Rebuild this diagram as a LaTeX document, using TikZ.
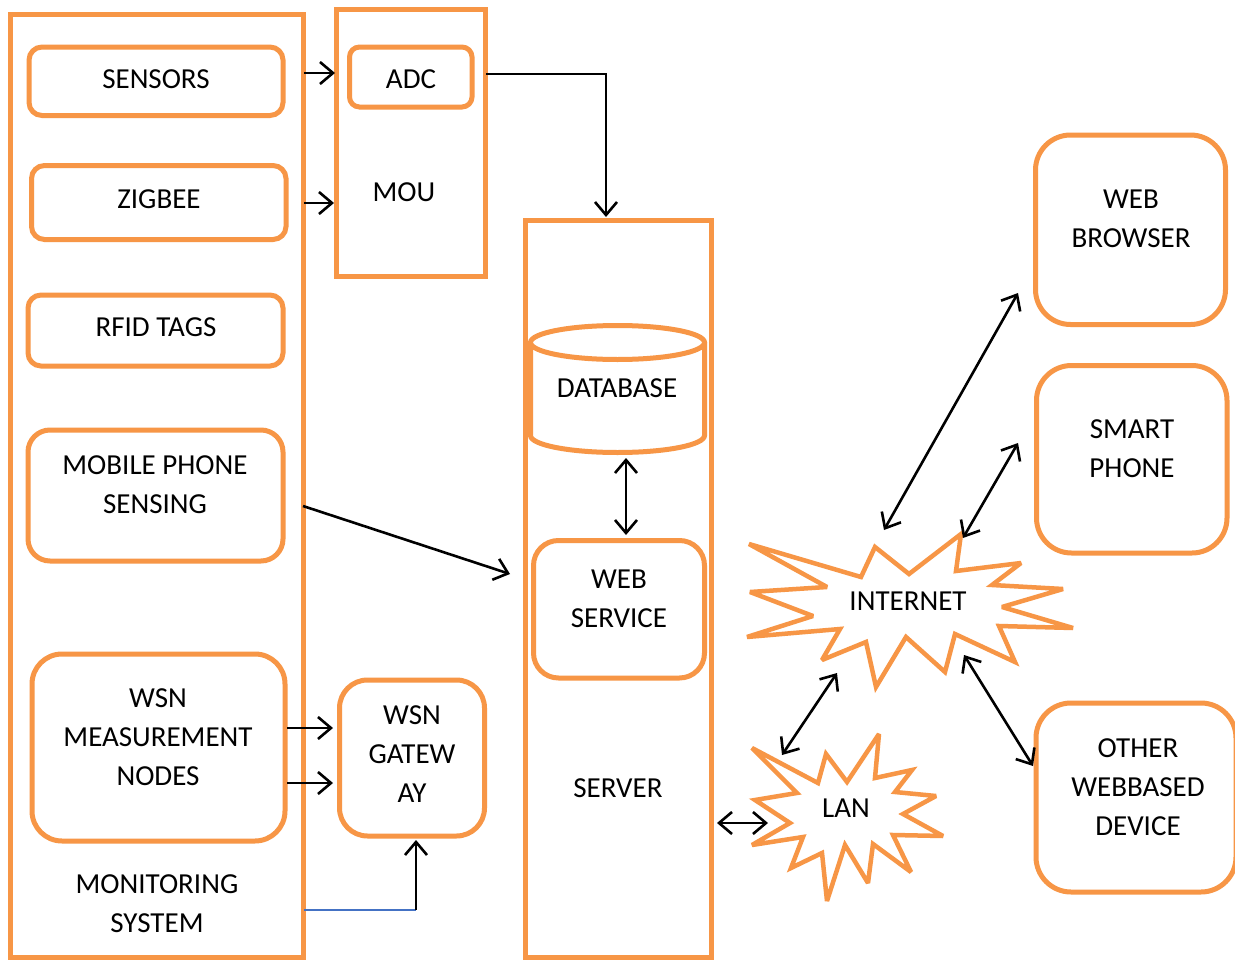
\documentclass[tikz,border=0pt]{standalone}
\usepackage{fontspec}
\setmainfont{Carlito}
\usetikzlibrary{arrows.meta,fit}
\definecolor{orng}{HTML}{F79646}
\definecolor{blu}{HTML}{4472C4}
\begin{document}
\begin{tikzpicture}[x=1pt,y=-1pt,
  sq/.style={draw=orng, line width=5pt, inner sep=0pt},
  rb/.style={sq, rounded corners=#1},
  rb/.default=13pt,
  txt/.style={align=center, inner sep=0pt, font=\fontsize{29}{39}\selectfont},
  star/.style={draw=orng, line width=4.5pt, line join=miter, miter limit=3},
  arr/.style={draw=black, line width=2.6pt, -{Straight Barb[length=13pt,width=22pt]}},
  darr/.style={draw=black, line width=2.6pt, {Straight Barb[length=13pt,width=22pt]}-{Straight Barb[length=13pt,width=22pt]}},
  bline/.style={draw=blu, line width=2pt}]
\clip (0,0) rectangle (1235,961);
\fill[white] (0,0) rectangle (1235,961);

% containers
\node[sq, fit={(10,14.5) (303.5,957)}] (mon) {};
\node[sq, fit={(336.5,9.5) (485.5,276.5)}] (mou) {};
\node[sq, fit={(525,220.5) (711.5,957)}] (server) {};

% left column boxes
\node[rb, fit={(29,47) (283,115.5)}] (sensors) {};
\node[rb, fit={(31.5,165.5) (286,239.5)}] (zigbee) {};
\node[rb, fit={(28,295) (283,366)}] (rfid) {};
\node[rb=22pt, fit={(28,430) (283,561)}] (mobile) {};
\node[rb=30pt, fit={(32,654) (285,841)}] (wsn) {};
\node[rb=10pt, fit={(349.5,47) (472,107)}] (adc) {};
\node[rb=28pt, fit={(339.5,680) (484.5,836)}] (gw) {};

% database cylinder
\node[inner sep=0pt, fit={(530.5,325.5) (704.5,452.5)}] (db) {};
\draw[draw=orng, line width=5pt] (530.5,342.5) -- (530.5,435.5)
  arc[start angle=180, end angle=0, x radius=87, y radius=17] -- (704.5,342.5);
\draw[draw=orng, line width=5pt] (617.5,342.5) ellipse [x radius=87, y radius=17];

\node[rb=25pt, fit={(533.5,540.5) (704.5,678)}] (ws) {};

% right boxes
\node[rb=35pt, fit={(1035.5,135) (1225.5,324.5)}] (browser) {};
\node[rb=35pt, fit={(1036.5,365.5) (1227,553)}] (phone) {};
\node[rb=35pt, fit={(1036,703) (1236,892)}] (other) {};

% starbursts
\draw[star] (749,544) -- (861,577) -- (875,547) -- (909,574) -- (961,534) -- (956,571)
  -- (1021,563) -- (992,585) -- (1063,589) -- (1002,607) -- (1073,628) -- (999,626)
  -- (1015,662) -- (955,634) -- (945,672) -- (906,637) -- (876,687) -- (866,642)
  -- (822,660) -- (840,629) -- (747,637) -- (813,616) -- (750,592) -- (827,587) -- cycle;
\draw[star] (752,748) -- (818,783) -- (826,754) -- (847,782) -- (879,734) -- (875,778)
  -- (912,770) -- (895,792) -- (936,796) -- (903,814) -- (943,836) -- (893,835)
  -- (911,872) -- (873,844) -- (868,883) -- (845,845) -- (827,901) -- (822,853)
  -- (791,868) -- (803,837) -- (752,845) -- (790,823) -- (755,800) -- (797,793) -- cycle;

% texts
\node[txt] (tsensors) at (156,79) {SENSORS};
\node[txt] (tzigbee) at (159,199) {ZIGBEE};
\node[txt] (trfid) at (156,327) {RFID TAGS};
\node[txt] (tmobile) at (155,485) {MOBILE PHONE\\SENSING};
\node[txt] (twsn) at (158,737) {WSN\\MEASUREMENT\\NODES};
\node[txt] (tmon) at (157,904) {MONITORING\\SYSTEM};
\node[txt] (tadc) at (411,79) {ADC};
\node[txt] (tmou) at (404,192) {MOU};
\node[txt] (tgw) at (412,754) {WSN\\GATEW\\AY};
\node[txt] (tdb) at (617,388) {DATABASE};
\node[txt] (tws) at (619,599) {WEB\\SERVICE};
\node[txt] (tserver) at (618,788) {SERVER};
\node[txt] (internet) at (908,601) {INTERNET};
\node[txt] (lan) at (846,808) {LAN};
\node[txt] (tbrowser) at (1131,218.5) {WEB\\BROWSER};
\node[txt] (tphone) at (1132,449) {SMART\\PHONE};
\node[txt] (tother) at (1138,787) {OTHER\\WEBBASED\\DEVICE};

% connector end points
\coordinate (s1) at (304,73);   \coordinate (e1) at (335,73);
\coordinate (s2) at (304,203);  \coordinate (e2) at (334,203);
\coordinate (s3) at (486,74);   \coordinate (c3) at (606,74);  \coordinate (e3) at (606,217);
\coordinate (s4) at (303,506);  \coordinate (e4) at (510,574);
\coordinate (s5) at (626,458);  \coordinate (e5) at (626,535);
\coordinate (s6) at (287,728);  \coordinate (e6) at (333,728);
\coordinate (s7) at (287,783);  \coordinate (e7) at (333,783);
\coordinate (s8) at (304,910);  \coordinate (c8) at (416,910); \coordinate (e8) at (416,840);
\coordinate (s9) at (717,823);  \coordinate (e9) at (768,823);
\coordinate (s10) at (782,755); \coordinate (e10) at (837,673);
\coordinate (s11) at (884,530); \coordinate (e11) at (1018,293);
\coordinate (s12) at (963,538); \coordinate (e12) at (1018,443);
\coordinate (s13) at (964,655); \coordinate (e13) at (1033,766);

% connectors
\draw[arr] (s1) -- (e1);
\draw[arr] (s2) -- (e2);
\draw[arr] (s3) -- (c3) -- (e3);
\draw[arr] (s4) -- (e4);
\draw[darr] (s5) -- (e5);
\draw[arr] (s6) -- (e6);
\draw[arr] (s7) -- (e7);
\draw[bline] (s8) -- (c8);
\draw[arr] (c8) -- (e8);
\draw[darr] (s9) -- (e9);
\draw[darr] (s10) -- (e10);
\draw[darr] (s11) -- (e11);
\draw[darr] (s12) -- (e12);
\draw[darr] (s13) -- (e13);
\end{tikzpicture}
\end{document}
